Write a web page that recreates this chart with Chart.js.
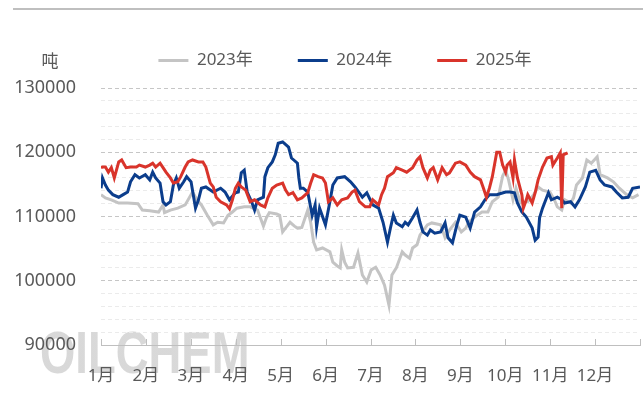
<!DOCTYPE html>
<html>
<head>
<meta charset="utf-8">
<script src="https://cdn.jsdelivr.net/npm/chart.js@4.4.1/dist/chart.umd.min.js"></script>
<style>
  html, body { margin: 0; padding: 0; background: #fff; }
</style>
</head>
<body>
<canvas id="chart" width="643" height="400"></canvas>
<script>
const monthLabels = ['1月', '2月', '3月', '4月', '5月', '6月', '7月', '8月', '9月', '10月', '11月', '12月'];
const seriesNames = ['2023年', '2024年', '2025年'];
const seriesColors = ['#c4c4c4', '#0b3d8c', '#d9342b'];

// day of year / tons
const days2023 = [0,3,7,12,18,25,28,33,39,42,43,47,52,57,62,65,68,72,76,79,83,86,89,92,97,101,106,110,112,114,119,121,123,126,128,131,133,136,140,142,144,146,150,155,157,160,162,163,165,167,171,174,177,180,183,186,189,192,195,197,200,204,206,209,211,214,216,221,224,230,233,236,240,244,247,249,253,258,262,265,269,272,274,276,279,281,284,289,293,296,299,304,307,309,312,314,318,320,322,326,329,332,336,338,343,347,351,356,360,364];
const values2023 = [113400,112900,112600,112100,112100,112000,111000,110900,110700,111800,110600,111000,111300,111800,113800,112600,111800,110200,108700,109100,109000,110200,110700,111300,111500,111500,111000,108500,109800,110600,110400,110200,107600,108500,109100,108500,108200,108300,111000,109100,106000,104800,105100,104500,102900,102300,102000,104800,102900,102000,102100,104300,100900,99800,101700,102100,100900,99300,96200,100900,102000,104500,104000,103500,105100,105600,107100,108700,109000,108700,106700,107900,109100,107600,108200,109100,109900,110700,110700,112300,113000,116300,117200,115700,112600,114400,112100,112300,113400,114600,114100,113800,112600,111500,111000,112600,112100,112900,114900,116000,118800,118300,119300,116500,116000,115400,114400,113400,112900,113400];

const days2024 = [0,1,3,5,8,12,15,18,20,23,26,30,33,35,37,40,42,44,47,49,51,53,56,58,61,64,66,68,71,76,81,84,87,91,93,95,97,99,102,104,106,110,111,113,116,118,120,123,127,129,133,134,135,137,140,143,145,146,148,152,155,157,160,165,169,172,177,180,184,188,191,194,196,198,200,204,206,208,211,214,216,218,221,223,226,230,233,235,238,241,243,247,250,253,257,260,263,268,274,277,280,282,285,288,292,294,296,297,299,303,305,309,312,314,318,321,324,328,331,335,338,341,346,349,353,357,360,365];
const values2024 = [114400,116000,114900,114100,113400,113000,113400,113800,115400,116500,116000,116500,115700,116900,116000,115200,112300,111800,112300,114900,116000,114400,115400,116200,115400,111300,112600,114400,114600,113800,114400,113800,112600,113700,113800,116800,117200,113800,112300,111000,112600,113000,116200,117600,118500,119600,121400,121600,120800,119100,118300,116000,114400,114400,113800,110200,111800,108400,111300,108700,112300,114900,116000,116200,115400,114600,113000,113700,111800,111300,109100,106000,108200,110200,109000,108400,109100,108700,109800,111000,109100,107600,107100,107900,107400,107600,109000,106700,105900,108700,110200,109900,108200,110700,111500,112600,113400,113400,113800,113800,113700,112100,110700,109900,108200,106300,106800,109800,111300,113700,112600,113000,112600,112100,112300,111500,112600,114600,116900,117200,115700,114900,114600,113800,112900,113000,114400,114600];

const days2025 = [0,1,3,5,7,9,12,14,17,20,24,26,30,33,35,37,40,42,44,47,49,52,54,57,59,62,66,69,71,74,76,78,81,85,87,89,91,93,95,98,101,104,108,111,113,116,119,123,125,127,130,133,136,140,142,144,147,150,152,154,157,160,163,167,170,172,175,179,182,184,188,190,192,194,198,200,204,207,211,214,216,218,221,223,225,228,231,234,236,240,243,247,250,253,257,259,261,263,265,268,270,272,274,275,277,279,280,282,285,286,288,289,292,294,296,299,302,305,306,309,311,312,313,316];
const values2025 = [117600,117700,117700,116900,117600,116000,118500,118800,117600,117700,117700,118000,117700,118000,118300,117700,118300,117600,116900,116000,115200,115400,116200,117700,118500,118800,118500,118500,117700,115200,114600,113000,112300,111800,111200,112600,114400,115200,114600,114100,112300,112600,111800,111500,112900,114400,114900,115200,114100,113400,113700,112600,112900,113700,115200,116500,116200,116000,115200,112300,112900,111800,112600,112900,113800,114100,112300,111500,111500,112600,111800,113400,114400,116200,116800,117600,117200,116900,117600,118800,119300,117600,116000,117200,117600,115700,117600,116500,116800,118300,118500,118000,116900,116200,115700,114400,113000,114400,116200,120000,120000,118000,116900,118000,118500,116000,118800,116000,113400,111300,112600,113400,112100,113700,115700,117700,119100,119300,118000,119100,119900,111300,119600,119900];

const yMin = 90000, yMax = 130000, yStep = 2000, yLabelStep = 10000;

function toPoints(days, values) {
  return days.map((d, i) => ({ x: d, y: values[i] }));
}

Chart.defaults.font.family = '"Noto Sans", "Noto Sans CJK SC", sans-serif';
Chart.defaults.color = '#595959';

// top rule, watermark, upward x ticks, unit label, legend placement
const decorations = {
  id: 'decorations',
  beforeUpdate(chart) {
    // leave more room between legend and plot
    const lg = chart.legend;
    if (lg && !lg._extraRoom) {
      const fit = lg.fit;
      lg.fit = function () { fit.call(this); this.height += 9; };
      lg._extraRoom = true;
    }
  },
  afterLayout(chart) {
    // legend sits a bit right of the canvas centre
    chart.legend.left += 42;
  },
  beforeDraw(chart) {
    const { ctx, chartArea } = chart;
    ctx.save();
    ctx.strokeStyle = '#bfbfbf';
    ctx.lineWidth = 2;
    ctx.beginPath();
    ctx.moveTo(13, 9);
    ctx.lineTo(chart.width, 9);
    ctx.stroke();

    const wx = chartArea.left - 61, wy = chartArea.bottom + 28;
    const grad = ctx.createLinearGradient(0, wy - 44, 0, wy);
    grad.addColorStop(0, 'rgba(200,200,200,0.7)');
    grad.addColorStop(1, 'rgba(242,242,242,0.7)');
    ctx.fillStyle = grad;
    ctx.font = 'bold 59px "Liberation Sans", sans-serif';
    ctx.textBaseline = 'alphabetic';
    ctx.translate(wx, wy);
    ctx.scale(0.77, 1);
    ctx.fillText('OILCHEM', 0, 0);
    ctx.restore();
  },
  afterDraw(chart) {
    const { ctx, scales: { x, y } } = chart;
    ctx.save();
    ctx.strokeStyle = '#bfbfbf';
    ctx.lineWidth = 1;
    x.ticks.forEach(t => {
      const px = Math.round(x.getPixelForValue(t.value)) + 0.5;
      ctx.beginPath();
      ctx.moveTo(px, x.top);
      ctx.lineTo(px, x.top - 6);
      ctx.stroke();
    });
    ctx.font = '17px "Noto Sans", "Noto Sans CJK SC", sans-serif';
    ctx.fillStyle = '#595959';
    ctx.textAlign = 'center';
    ctx.textBaseline = 'middle';
    ctx.fillText('吨', y.right - y.options.ticks.padding - 26, y.getPixelForValue(yMax) - 26);
    ctx.restore();
  }
};

new Chart(document.getElementById('chart'), {
  type: 'line',
  data: {
    datasets: [
      { label: seriesNames[0], data: toPoints(days2023, values2023), borderColor: seriesColors[0], backgroundColor: seriesColors[0], order: 3 },
      { label: seriesNames[1], data: toPoints(days2024, values2024), borderColor: seriesColors[1], backgroundColor: seriesColors[1], order: 2 },
      { label: seriesNames[2], data: toPoints(days2025, values2025), borderColor: seriesColors[2], backgroundColor: seriesColors[2], order: 1 }
    ]
  },
  options: {
    responsive: false,
    animation: false,
    devicePixelRatio: 1,
    layout: { padding: { left: 8, right: 3, top: 7, bottom: 10 } },
    elements: {
      line: { borderWidth: 3, tension: 0 },
      point: { radius: 0 }
    },
    plugins: {
      tooltip: { enabled: false },
      legend: {
        position: 'top',
        labels: {
          boxWidth: 30,
          boxHeight: 3,
          padding: 45,
          font: { size: 17 },
          color: '#595959',
          sort: (a, b) => a.datasetIndex - b.datasetIndex,
          generateLabels(chart) {
            return Chart.defaults.plugins.legend.labels.generateLabels(chart).map(item => {
              item.fillStyle = item.strokeStyle;
              item.lineWidth = 0;
              return item;
            });
          }
        }
      }
    },
    scales: {
      x: {
        type: 'linear',
        min: 0,
        max: 365,
        afterBuildTicks(scale) {
          scale.ticks = monthLabels.concat(['']).map((_, i) => ({ value: i * 365 / 12 }));
        },
        afterFit(scale) {
          scale.height = 45;
          scale.paddingLeft = 0;
          scale.paddingRight = 0;
        },
        ticks: {
          autoSkip: false,
          maxRotation: 0,
          padding: 21,
          font: { size: 17 },
          color: '#595959',
          callback: (v, i) => monthLabels[i] || ''
        },
        grid: { drawOnChartArea: false, drawTicks: false },
        border: { display: true, color: '#bfbfbf', width: 1 }
      },
      y: {
        min: yMin,
        max: yMax,
        afterFit(scale) {
          scale.width = 93;
          scale.paddingTop = 0;
          scale.paddingBottom = 0;
        },
        ticks: {
          autoSkip: false,
          stepSize: yStep,
          padding: 25,
          font: { size: 18 },
          color: '#595959',
          callback: v => (v % yLabelStep === 0 ? v : '')
        },
        grid: {
          drawTicks: false,
          color: c => (c.tick && c.tick.value % yLabelStep === 0 ? '#c6c6c6' : '#ebebeb'),
          lineWidth: 1
        },
        border: { display: false, dash: [4, 3] }
      }
    }
  },
  plugins: [decorations]
});
</script>
</body>
</html>
